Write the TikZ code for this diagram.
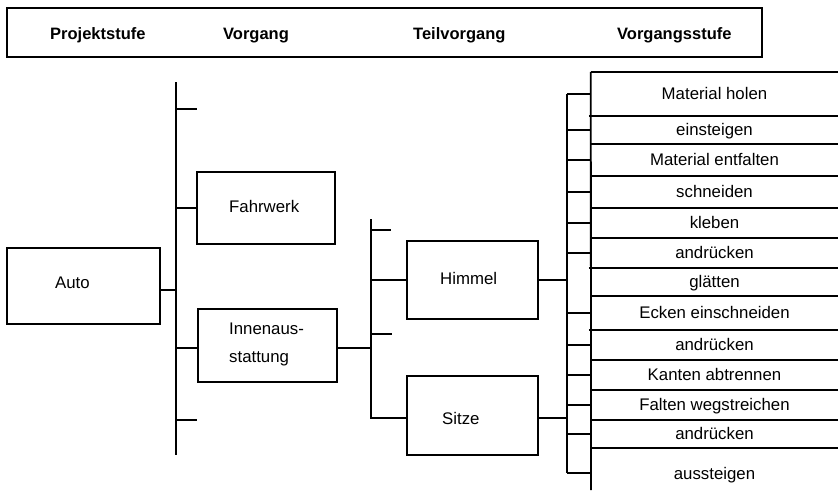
\documentclass[tikz,border=0pt]{standalone}
\usepackage{fontspec}
\setmainfont{Liberation Sans}
\begin{document}
\begin{tikzpicture}[x=1pt,y=-1pt,
  box/.style={draw, line width=1.8pt, inner sep=0pt},
  ln/.style={line width=1.8pt},
  txt/.style={font=\fontsize{16.8}{20}\selectfont, inner sep=0pt, anchor=base west},
  hdr/.style={font=\bfseries\fontsize{16.5}{20}\selectfont, inner sep=0pt, anchor=base west},
  rowbox/.style={minimum width=247pt, inner sep=0pt, text height=12pt, text depth=2pt,
    font=\fontsize{16.8}{20}\selectfont}]
\useasboundingbox (0,0) rectangle (838,490);

% header
\node[box, minimum width=755pt, minimum height=49pt] (header) at (384.5,32.5) {};
\node[hdr] (h1) at (50,39.5) {Projektstufe};
\node[hdr] (h2) at (223,39.5) {Vorgang};
\node[hdr] (h3) at (413,39.5) {Teilvorgang};
\node[hdr] (h4) at (617,39.5) {Vorgangsstufe};

% boxes
\node[box, minimum width=153pt, minimum height=76pt] (auto) at (83.5,286) {};
\node[txt] (autot) at (55,288) {Auto};
\node[box, minimum width=138pt, minimum height=72pt] (fahrwerk) at (266,208) {};
\node[txt] (fahrwerkt) at (229,212) {Fahrwerk};
\node[box, minimum width=139pt, minimum height=73pt] (innen) at (267.5,345.5) {};
\node[txt] (innent) at (229,334) {\begin{tabular}[t]{@{}l@{}}Innenaus-\\[8pt]stattung\end{tabular}};
\node[box, minimum width=131pt, minimum height=78pt] (himmel) at (472.5,280) {};
\node[txt] (himmelt) at (440,284) {Himmel};
\node[box, minimum width=131pt, minimum height=79pt] (sitze) at (472.5,415.5) {};
\node[txt] (sitzet) at (442,424) {Sitze};

% bus 1
\coordinate (b1top) at (176,82);
\coordinate (b1bot) at (176,455);
\coordinate (t1) at (197,109);
\coordinate (t2) at (197,420);
\draw[ln] (b1top) -- (b1bot);
\draw[ln] (t1 -| b1top) -- (t1);
\draw[ln] (t2 -| b1top) -- (t2);
\draw[ln] ([yshift=-4pt]auto.east) -- ([yshift=-4pt]auto.east -| b1top);
\draw[ln] (fahrwerk.west) -- (fahrwerk.west -| b1top);
\draw[ln] ([yshift=-2.5pt]innen.west) -- ([yshift=-2.5pt]innen.west -| b1top);

% bus 2
\coordinate (b2top) at (371,219);
\coordinate (t3) at (391,230);
\coordinate (t4) at (392,334);
\coordinate (sc) at ([yshift=-2.5pt]sitze.west);
\draw[ln] (b2top) -- (sc -| b2top) -- (sc);
\draw[ln] (t3 -| b2top) -- (t3);
\draw[ln] (t4 -| b2top) -- (t4);
\draw[ln] (himmel.west) -- (himmel.west -| b2top);
\draw[ln] ([yshift=-2.5pt]innen.east) -- ([yshift=-2.5pt]innen.east -| b2top);

% rows
\node[rowbox, minimum height=44pt] (r1) at (714.5,94) {Material holen};
\node[rowbox, minimum height=28pt] (r2) at (714.5,130) {einsteigen};
\node[rowbox, minimum height=32pt] (r3) at (714.5,160) {Material entfalten};
\node[rowbox, minimum height=32pt] (r4) at (714.5,192) {schneiden};
\node[rowbox, minimum height=30pt] (r5) at (714.5,223) {kleben};
\node[rowbox, minimum height=30pt] (r6) at (714.5,253) {andrücken};
\node[rowbox, minimum height=28pt] (r7) at (714.5,282) {glätten};
\node[rowbox, minimum height=34pt] (r8) at (714.5,313) {Ecken einschneiden};
\node[rowbox, minimum height=30pt] (r9) at (714.5,345) {andrücken};
\node[rowbox, minimum height=30pt] (r10) at (714.5,375) {Kanten abtrennen};
\node[rowbox, minimum height=30pt] (r11) at (714.5,405) {Falten wegstreichen};
\node[rowbox, minimum height=28pt] (r12) at (714.5,434) {andrücken};
\node[rowbox, minimum height=50pt, text depth=0pt] (r13) at (714.5,473) {aussteigen};

\coordinate (colbot) at (591,490);
\draw[ln] (r1.north west) -- (colbot);
\foreach \r in {r1,r3,r4,r5,r6,r8,r10,r11,r12,r13}
  \draw[ln] (\r.north west) -- (\r.north east);
\foreach \r in {r2,r7,r9}
  \draw[ln] ([xshift=-2pt]\r.north west) -- (\r.north east);

% bus 3
\coordinate (b3top) at (567,94);
\draw[ln] (b3top) -- (b3top |- r13.west);
\foreach \r in {r1,r2,r3,r4,r5,r6,r8,r9,r10,r11,r12,r13}
  \draw[ln] (\r.west -| b3top) -- (\r.west);
\draw[ln] (himmel.east) -- (himmel.east -| b3top);
\draw[ln] ([yshift=-2.5pt]sitze.east) -- ([yshift=-2.5pt]sitze.east -| b3top);
\end{tikzpicture}
\end{document}
